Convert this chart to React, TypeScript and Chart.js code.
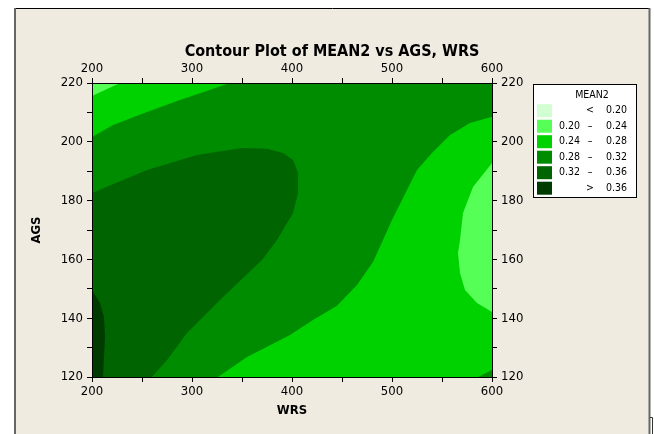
import React, { useEffect, useRef } from 'react';
import { Chart, registerables } from 'chart.js';

Chart.register(...registerables);

const FONT = "'DejaVu Sans Condensed', 'DejaVu Sans', sans-serif";

const chartTitle = 'Contour Plot of MEAN2 vs AGS, WRS';
const xTitle = 'WRS';
const yTitle = 'AGS';
const xMin = 200;
const xMax = 600;
const xTickStep = 50;
const xLabelStep = 100;
const yMin = 120;
const yMax = 220;
const yTickStep = 10;
const yLabelStep = 20;

const legendTitle = 'MEAN2';
const legendFrom = ['', '0.20', '0.24', '0.28', '0.32', ''];
const legendSep = ['<', '–', '–', '–', '–', '>'];
const legendTo = ['0.20', '0.24', '0.28', '0.32', '0.36', '0.36'];
const levelColors = ['#D2FFD2', '#55FF55', '#00D200', '#008C00', '#006400', '#003C00'];

// contour regions as (WRS, AGS) outlines
const region024to028 = [[200, 120], [600, 120], [600, 220], [200, 220]];
const region028to032 = [
  [200, 201.6], [221, 205.7], [255, 210.1], [288, 214.2], [338, 220],
  [600, 220], [600, 208.5], [578, 206.4], [558, 202.3], [540, 196.2],
  [525, 190.4], [510, 180.2], [500, 173.4], [491, 166.6], [481, 159.1],
  [465, 151.3], [445, 144.2], [421, 139.4], [398, 134.3], [355, 126.8],
  [326, 120], [200, 120],
];
const region032to036 = [
  [200, 182.6], [255, 190.4], [305, 195.5], [350, 197.9], [375, 197.6],
  [391, 196.2], [401, 193.8], [406, 189.4], [406, 182.6], [401, 175.8],
  [385, 166.6], [370, 159.8], [331, 147.2], [295, 135], [275, 125.8],
  [260, 120], [200, 120],
];
const regionAbove036 = [
  [200, 149.6], [208, 145.2], [212, 140.4], [213, 133.6], [211, 120], [200, 120],
];
const regionTopLeft020to024 = [[200, 220], [228, 220], [200, 215.6]];
const regionRight020to024 = [
  [600, 192.8], [581, 184.6], [571, 175.8], [568, 166.6], [566, 162.2],
  [568, 155.4], [573, 149.6], [585, 145.2], [600, 142.1],
];
const regionCorner028to032 = [[586, 120], [600, 122.4], [600, 120]];

const regions: { pts: number[][]; level: number }[] = [
  { pts: region024to028, level: 2 },
  { pts: region028to032, level: 3 },
  { pts: region032to036, level: 4 },
  { pts: regionAbove036, level: 5 },
  { pts: regionTopLeft020to024, level: 1 },
  { pts: regionRight020to024, level: 1 },
  { pts: regionCorner028to032, level: 3 },
];

export default function App() {
  const ref = useRef<HTMLCanvasElement>(null);

  useEffect(() => {
    const canvas = ref.current;
    if (!canvas) return;

    const framePlugin = {
      id: 'frame',
      beforeDraw(chart: any) {
        const ctx = chart.ctx;
        ctx.save();
        ctx.fillStyle = '#ffffff';
        ctx.fillRect(0, 0, chart.width, chart.height);
        ctx.fillStyle = '#EFEBE1';
        ctx.fillRect(15, 8, 635, 426);
        ctx.strokeStyle = '#000000';
        ctx.lineWidth = 1;
        ctx.beginPath();
        ctx.moveTo(15, 8.5);
        ctx.lineTo(650, 8.5);
        ctx.stroke();
        ctx.strokeStyle = '#666666';
        ctx.lineWidth = 2;
        ctx.beginPath();
        ctx.moveTo(15, 8);
        ctx.lineTo(15, 434);
        ctx.moveTo(649.5, 8);
        ctx.lineTo(649.5, 434);
        ctx.stroke();
        ctx.restore();
      },
      afterDraw(chart: any) {
        const ctx = chart.ctx;
        ctx.save();
        // title
        ctx.fillStyle = '#000';
        ctx.font = `bold 16px ${FONT}`;
        ctx.textAlign = 'center';
        ctx.textBaseline = 'alphabetic';
        ctx.fillText(chartTitle, 332, 56);

        // legend
        const bx = 533, by = 84, bw = 104, bh = 114;
        ctx.fillStyle = '#ffffff';
        ctx.fillRect(bx, by, bw, bh);
        ctx.strokeStyle = '#000';
        ctx.lineWidth = 1;
        ctx.strokeRect(bx + 0.5, by + 0.5, bw - 1, bh - 1);
        ctx.fillStyle = '#000';
        ctx.font = `10.5px ${FONT}`;
        ctx.textBaseline = 'middle';
        ctx.textAlign = 'center';
        ctx.fillText(legendTitle, 592, 95);
        for (let i = 0; i < levelColors.length; i++) {
          const cy = 110.7 + i * 15.5;
          ctx.fillStyle = levelColors[i];
          ctx.fillRect(537, cy - 6.5, 15, 13);
          ctx.fillStyle = '#000';
          ctx.textAlign = 'right';
          if (legendFrom[i]) ctx.fillText(legendFrom[i], 580, cy);
          ctx.textAlign = 'center';
          ctx.fillText(legendSep[i], 590, cy);
          ctx.textAlign = 'right';
          ctx.fillText(legendTo[i], 627, cy);
        }

        // small bracket at bottom right
        ctx.strokeStyle = '#333';
        ctx.lineWidth = 1;
        ctx.beginPath();
        ctx.moveTo(650, 417.5);
        ctx.lineTo(652.5, 417.5);
        ctx.lineTo(652.5, 434);
        ctx.stroke();
        ctx.restore();
      },
    };

    const tickFont = { family: FONT, size: 13 };
    const titleFont = { family: FONT, size: 13, weight: 'bold' as const };
    const grid = {
      drawOnChartArea: false,
      drawTicks: true,
      tickLength: 5,
      color: '#000',
      tickColor: '#000',
      lineWidth: 1,
    };
    const border = { display: true, color: '#000', width: 1, z: 1 };

    const xAxis = (pos: 'top' | 'bottom', h: number, withTitle: boolean) => ({
      type: 'linear' as const,
      position: pos,
      min: xMin,
      max: xMax,
      ticks: {
        stepSize: xTickStep,
        autoSkip: false,
        maxRotation: 0,
        color: '#000',
        font: tickFont,
        padding: 2,
        callback: (v: any) => (Number(v) % xLabelStep === 0 ? String(v) : ''),
      },
      grid,
      border,
      title: {
        display: withTitle,
        text: xTitle,
        color: '#000',
        font: titleFont,
        padding: { top: 0, bottom: 16 },
      },
      afterFit: (s: any) => {
        s.height = h;
      },
    });

    const yAxis = (pos: 'left' | 'right', w: number, withTitle: boolean) => ({
      type: 'linear' as const,
      position: pos,
      min: yMin,
      max: yMax,
      ticks: {
        stepSize: yTickStep,
        autoSkip: false,
        color: '#000',
        font: tickFont,
        padding: 4,
        callback: (v: any) => ((Number(v) - yMin) % yLabelStep === 0 ? String(v) : ''),
      },
      grid,
      border,
      title: {
        display: withTitle,
        text: yTitle,
        color: '#000',
        font: titleFont,
        padding: { top: 14, bottom: 0 },
      },
      afterFit: (s: any) => {
        s.width = w;
      },
    });

    const datasets = regions.map((r, i) => ({
      type: 'line' as const,
      data: r.pts.map(([x, y]) => ({ x, y })),
      backgroundColor: levelColors[r.level],
      borderColor: levelColors[r.level],
      borderWidth: 0,
      pointRadius: 0,
      pointHoverRadius: 0,
      fill: 'shape' as const,
      tension: 0,
      order: regions.length - i,
      xAxisID: 'x',
      yAxisID: 'y',
    }));

    const chart = new Chart(canvas, {
      type: 'line',
      data: { datasets: datasets as any },
      options: {
        animation: false,
        responsive: false,
        devicePixelRatio: 1,
        events: [],
        layout: { padding: { left: 15, right: 4, top: 8, bottom: 0 } },
        plugins: {
          legend: { display: false },
          tooltip: { enabled: false },
          title: { display: false },
        },
        scales: {
          x: xAxis('bottom', 57, true) as any,
          x2: xAxis('top', 75, false) as any,
          y: yAxis('left', 77, true) as any,
          y2: yAxis('right', 158, false) as any,
        },
      },
      plugins: [framePlugin],
    });

    return () => chart.destroy();
  }, []);

  return (
    <div style={{ position: 'absolute', left: 0, top: 0, width: 654, height: 434 }}>
      <canvas ref={ref} width={654} height={434} style={{ display: 'block' }} />
    </div>
  );
}
